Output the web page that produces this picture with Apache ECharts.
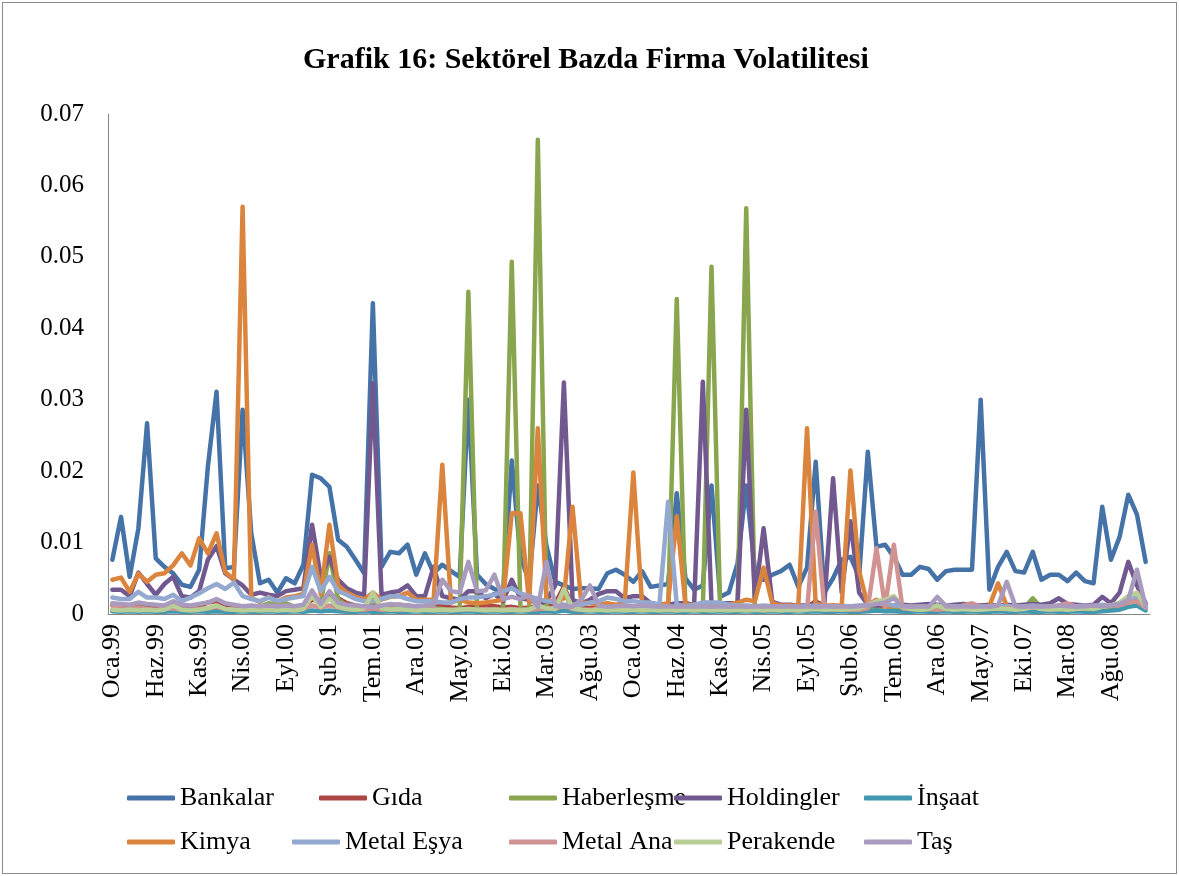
<!DOCTYPE html>
<html>
<head>
<meta charset="utf-8">
<script src="https://cdn.jsdelivr.net/npm/echarts@6/dist/echarts.min.js"></script>
<style>
    html, body { margin: 0; padding: 0; background: #fff; }
    #chart { width: 1179px; height: 876px; }
    .frame { position: absolute; left: 2px; top: 2px; width: 1173px; height: 870px; border: 1px solid #8c8c8c; pointer-events: none; }
</style>
</head>
<body>
<div id="chart"></div>
<div class="frame"></div>
<script>
// ay etiketleri
const monthNames = ['Oca', 'Şub', 'Mar', 'Nis', 'May', 'Haz', 'Tem', 'Ağu', 'Eyl', 'Eki', 'Kas', 'Ara'];
const years = ['99', '00', '01', '02', '03', '04', '05', '06', '07', '08'];
const categories = [];
years.forEach(y => monthNames.forEach(m => categories.push(m + '.' + y)));

const yTicks = [0, 0.01, 0.02, 0.03, 0.04, 0.05, 0.06, 0.07];

// seriler (Oca.99 - Ara.08)
const bankalar = [
    0.0076, 0.0136, 0.0052, 0.0120, 0.0267, 0.0078, 0.0066, 0.0057, 0.0041, 0.0038,
    0.0062, 0.0206, 0.0311, 0.0064, 0.0066, 0.0286, 0.0113, 0.0043, 0.0048, 0.0030,
    0.0050, 0.0043, 0.0069, 0.0195, 0.0190, 0.0178, 0.0104, 0.0094, 0.0076, 0.0057,
    0.0435, 0.0066, 0.0087, 0.0085, 0.0097, 0.0055, 0.0085, 0.0057, 0.0069, 0.0060,
    0.0052, 0.0300, 0.0055, 0.0042, 0.0035, 0.0030, 0.0215, 0.0080, 0.0045, 0.0180,
    0.0095, 0.0045, 0.0040, 0.0035, 0.0036, 0.0036, 0.0035, 0.0057, 0.0062, 0.0055,
    0.0045, 0.0060, 0.0038, 0.0040, 0.0042, 0.0169, 0.0050, 0.0034, 0.0040, 0.0180,
    0.0024, 0.0030, 0.0071, 0.0180, 0.0062, 0.0048, 0.0055, 0.0060, 0.0069, 0.0038,
    0.0065, 0.0213, 0.0030, 0.0050, 0.0076, 0.0080, 0.0052, 0.0227, 0.0094, 0.0097,
    0.0080, 0.0055, 0.0055, 0.0066, 0.0063, 0.0048, 0.0060, 0.0062, 0.0062, 0.0062,
    0.0300, 0.0034, 0.0066, 0.0087, 0.0060, 0.0058, 0.0087, 0.0048, 0.0055, 0.0055,
    0.0046, 0.0058, 0.0046, 0.0043, 0.0150, 0.0076, 0.0108, 0.0167, 0.0139, 0.0073
];
const gida = [
    0.0012, 0.0010, 0.0011, 0.0013, 0.0010, 0.0009, 0.0011, 0.0012, 0.0009, 0.0008,
    0.0010, 0.0016, 0.0018, 0.0012, 0.0010, 0.0009, 0.0008, 0.0010, 0.0009, 0.0008,
    0.0010, 0.0009, 0.0011, 0.0020, 0.0018, 0.0026, 0.0022, 0.0015, 0.0012, 0.0010,
    0.0012, 0.0010, 0.0011, 0.0013, 0.0012, 0.0010, 0.0009, 0.0010, 0.0011, 0.0009,
    0.0008, 0.0010, 0.0009, 0.0012, 0.0011, 0.0009, 0.0010, 0.0008, 0.0009, 0.0011,
    0.0012, 0.0015, 0.0038, 0.0012, 0.0009, 0.0008, 0.0010, 0.0009, 0.0008, 0.0009,
    0.0008, 0.0007, 0.0008, 0.0007, 0.0008, 0.0009, 0.0007, 0.0008, 0.0007, 0.0008,
    0.0007, 0.0008, 0.0007, 0.0008, 0.0009, 0.0008, 0.0007, 0.0008, 0.0007, 0.0008,
    0.0009, 0.0018, 0.0010, 0.0012, 0.0008, 0.0009, 0.0008, 0.0010, 0.0009, 0.0008,
    0.0010, 0.0008, 0.0007, 0.0008, 0.0007, 0.0008, 0.0007, 0.0008, 0.0009, 0.0008,
    0.0007, 0.0008, 0.0009, 0.0010, 0.0008, 0.0007, 0.0008, 0.0007, 0.0008, 0.0009,
    0.0008, 0.0007, 0.0008, 0.0009, 0.0010, 0.0009, 0.0012, 0.0016, 0.0022, 0.0010
];
const haberlesme = [
    0.0006, 0.0005, 0.0006, 0.0007, 0.0006, 0.0005, 0.0006, 0.0008, 0.0006, 0.0005,
    0.0006, 0.0007, 0.0008, 0.0006, 0.0005, 0.0006, 0.0008, 0.0010, 0.0015, 0.0012,
    0.0015, 0.0010, 0.0012, 0.0030, 0.0015, 0.0085, 0.0020, 0.0012, 0.0010, 0.0009,
    0.0020, 0.0010, 0.0009, 0.0010, 0.0009, 0.0008, 0.0007, 0.0008, 0.0007, 0.0006,
    0.0007, 0.0451, 0.0007, 0.0006, 0.0007, 0.0006, 0.0493, 0.0007, 0.0006, 0.0664,
    0.0008, 0.0007, 0.0030, 0.0008, 0.0006, 0.0005, 0.0006, 0.0005, 0.0006, 0.0005,
    0.0006, 0.0005, 0.0006, 0.0005, 0.0006, 0.0441, 0.0006, 0.0005, 0.0006, 0.0486,
    0.0006, 0.0005, 0.0006, 0.0568, 0.0007, 0.0006, 0.0005, 0.0006, 0.0005, 0.0006,
    0.0005, 0.0006, 0.0005, 0.0006, 0.0005, 0.0006, 0.0005, 0.0006, 0.0008, 0.0010,
    0.0008, 0.0006, 0.0005, 0.0006, 0.0005, 0.0006, 0.0005, 0.0006, 0.0005, 0.0006,
    0.0005, 0.0006, 0.0005, 0.0006, 0.0007, 0.0008, 0.0022, 0.0008, 0.0006, 0.0007,
    0.0006, 0.0005, 0.0006, 0.0007, 0.0008, 0.0010, 0.0012, 0.0020, 0.0018, 0.0008
];
const holdingler = [
    0.0034, 0.0034, 0.0025, 0.0058, 0.0042, 0.0027, 0.0042, 0.0052, 0.0025, 0.0023,
    0.0032, 0.0076, 0.0095, 0.0057, 0.0048, 0.0040, 0.0027, 0.0030, 0.0027, 0.0025,
    0.0032, 0.0034, 0.0036, 0.0125, 0.0052, 0.0080, 0.0048, 0.0036, 0.0030, 0.0027,
    0.0323, 0.0027, 0.0030, 0.0032, 0.0040, 0.0025, 0.0025, 0.0066, 0.0025, 0.0022,
    0.0020, 0.0032, 0.0032, 0.0022, 0.0028, 0.0018, 0.0048, 0.0022, 0.0020, 0.0015,
    0.0018, 0.0040, 0.0324, 0.0020, 0.0015, 0.0020, 0.0028, 0.0032, 0.0032, 0.0022,
    0.0025, 0.0025, 0.0015, 0.0013, 0.0013, 0.0015, 0.0015, 0.0013, 0.0325, 0.0015,
    0.0015, 0.0015, 0.0015, 0.0286, 0.0020, 0.0120, 0.0017, 0.0013, 0.0013, 0.0012,
    0.0012, 0.0013, 0.0015, 0.0190, 0.0030, 0.0130, 0.0030, 0.0013, 0.0012, 0.0012,
    0.0012, 0.0013, 0.0012, 0.0013, 0.0014, 0.0013, 0.0012, 0.0013, 0.0014, 0.0013,
    0.0012, 0.0013, 0.0012, 0.0013, 0.0012, 0.0013, 0.0014, 0.0013, 0.0015, 0.0022,
    0.0014, 0.0013, 0.0012, 0.0013, 0.0024, 0.0015, 0.0030, 0.0073, 0.0040, 0.0015
];
const insaat = [
    0.0004, 0.0003, 0.0004, 0.0003, 0.0004, 0.0003, 0.0003, 0.0004, 0.0003, 0.0003,
    0.0004, 0.0003, 0.0004, 0.0003, 0.0003, 0.0004, 0.0003, 0.0003, 0.0004, 0.0003,
    0.0003, 0.0004, 0.0003, 0.0005, 0.0004, 0.0005, 0.0004, 0.0003, 0.0003, 0.0004,
    0.0003, 0.0003, 0.0004, 0.0003, 0.0003, 0.0004, 0.0003, 0.0003, 0.0004, 0.0003,
    0.0003, 0.0004, 0.0003, 0.0003, 0.0004, 0.0003, 0.0003, 0.0004, 0.0003, 0.0003,
    0.0004, 0.0003, 0.0005, 0.0003, 0.0003, 0.0004, 0.0003, 0.0003, 0.0004, 0.0003,
    0.0003, 0.0004, 0.0003, 0.0003, 0.0004, 0.0003, 0.0003, 0.0004, 0.0003, 0.0003,
    0.0004, 0.0003, 0.0003, 0.0004, 0.0003, 0.0003, 0.0004, 0.0003, 0.0003, 0.0004,
    0.0003, 0.0004, 0.0003, 0.0003, 0.0004, 0.0003, 0.0003, 0.0004, 0.0005, 0.0004,
    0.0004, 0.0003, 0.0003, 0.0004, 0.0003, 0.0003, 0.0004, 0.0003, 0.0003, 0.0004,
    0.0003, 0.0003, 0.0004, 0.0003, 0.0003, 0.0004, 0.0003, 0.0003, 0.0004, 0.0003,
    0.0003, 0.0004, 0.0003, 0.0003, 0.0004, 0.0005, 0.0006, 0.0010, 0.0012, 0.0005
];
const kimya = [
    0.0048, 0.0051, 0.0031, 0.0057, 0.0045, 0.0055, 0.0057, 0.0068, 0.0085, 0.0068,
    0.0106, 0.0085, 0.0113, 0.0059, 0.0048, 0.0570, 0.0022, 0.0017, 0.0024, 0.0017,
    0.0023, 0.0025, 0.0028, 0.0097, 0.0028, 0.0125, 0.0040, 0.0030, 0.0024, 0.0020,
    0.0030, 0.0020, 0.0024, 0.0025, 0.0030, 0.0020, 0.0020, 0.0020, 0.0209, 0.0016,
    0.0020, 0.0016, 0.0015, 0.0016, 0.0018, 0.0020, 0.0141, 0.0141, 0.0016, 0.0260,
    0.0020, 0.0016, 0.0022, 0.0150, 0.0016, 0.0015, 0.0013, 0.0015, 0.0013, 0.0015,
    0.0198, 0.0016, 0.0015, 0.0013, 0.0015, 0.0137, 0.0013, 0.0013, 0.0012, 0.0013,
    0.0012, 0.0013, 0.0016, 0.0020, 0.0018, 0.0065, 0.0015, 0.0012, 0.0012, 0.0012,
    0.0260, 0.0014, 0.0012, 0.0012, 0.0012, 0.0201, 0.0060, 0.0012, 0.0020, 0.0010,
    0.0012, 0.0010, 0.0011, 0.0010, 0.0011, 0.0010, 0.0011, 0.0010, 0.0011, 0.0010,
    0.0010, 0.0011, 0.0043, 0.0011, 0.0010, 0.0011, 0.0010, 0.0011, 0.0010, 0.0011,
    0.0010, 0.0011, 0.0010, 0.0011, 0.0012, 0.0011, 0.0015, 0.0020, 0.0025, 0.0012
];
const metalEsya = [
    0.0023, 0.0021, 0.0021, 0.0031, 0.0023, 0.0023, 0.0021, 0.0027, 0.0018, 0.0023,
    0.0029, 0.0036, 0.0042, 0.0035, 0.0044, 0.0025, 0.0021, 0.0018, 0.0023, 0.0018,
    0.0021, 0.0023, 0.0025, 0.0066, 0.0032, 0.0052, 0.0032, 0.0027, 0.0021, 0.0018,
    0.0018, 0.0021, 0.0025, 0.0025, 0.0021, 0.0018, 0.0018, 0.0018, 0.0016, 0.0016,
    0.0021, 0.0023, 0.0023, 0.0025, 0.0027, 0.0032, 0.0036, 0.0029, 0.0025, 0.0021,
    0.0018, 0.0016, 0.0013, 0.0013, 0.0013, 0.0016, 0.0018, 0.0023, 0.0021, 0.0018,
    0.0018, 0.0016, 0.0016, 0.0013, 0.0157, 0.0013, 0.0011, 0.0013, 0.0016, 0.0016,
    0.0016, 0.0013, 0.0012, 0.0012, 0.0011, 0.0012, 0.0011, 0.0010, 0.0011, 0.0010,
    0.0011, 0.0012, 0.0010, 0.0011, 0.0010, 0.0011, 0.0012, 0.0013, 0.0015, 0.0014,
    0.0012, 0.0011, 0.0010, 0.0011, 0.0010, 0.0011, 0.0012, 0.0011, 0.0010, 0.0011,
    0.0010, 0.0011, 0.0012, 0.0011, 0.0010, 0.0011, 0.0012, 0.0011, 0.0010, 0.0011,
    0.0010, 0.0011, 0.0012, 0.0011, 0.0013, 0.0012, 0.0015, 0.0020, 0.0025, 0.0012
];
const metalAna = [
    0.0012, 0.0008, 0.0007, 0.0009, 0.0007, 0.0006, 0.0007, 0.0008, 0.0006, 0.0006,
    0.0007, 0.0008, 0.0010, 0.0007, 0.0006, 0.0006, 0.0006, 0.0007, 0.0006, 0.0006,
    0.0007, 0.0006, 0.0007, 0.0012, 0.0009, 0.0012, 0.0009, 0.0007, 0.0006, 0.0006,
    0.0008, 0.0006, 0.0007, 0.0006, 0.0007, 0.0006, 0.0006, 0.0007, 0.0006, 0.0006,
    0.0006, 0.0007, 0.0006, 0.0007, 0.0006, 0.0006, 0.0007, 0.0006, 0.0006, 0.0007,
    0.0008, 0.0007, 0.0012, 0.0007, 0.0006, 0.0006, 0.0007, 0.0006, 0.0006, 0.0006,
    0.0006, 0.0007, 0.0006, 0.0006, 0.0007, 0.0006, 0.0006, 0.0007, 0.0006, 0.0006,
    0.0007, 0.0006, 0.0006, 0.0007, 0.0006, 0.0006, 0.0007, 0.0006, 0.0006, 0.0007,
    0.0006, 0.0143, 0.0007, 0.0006, 0.0007, 0.0006, 0.0006, 0.0008, 0.0092, 0.0010,
    0.0097, 0.0008, 0.0007, 0.0006, 0.0007, 0.0006, 0.0007, 0.0008, 0.0012, 0.0015,
    0.0010, 0.0008, 0.0007, 0.0008, 0.0007, 0.0008, 0.0009, 0.0008, 0.0010, 0.0012,
    0.0015, 0.0010, 0.0008, 0.0009, 0.0010, 0.0012, 0.0012, 0.0016, 0.0018, 0.0009
];
const perakende = [
    0.0006, 0.0005, 0.0006, 0.0005, 0.0006, 0.0005, 0.0006, 0.0012, 0.0006, 0.0005,
    0.0006, 0.0008, 0.0012, 0.0007, 0.0006, 0.0005, 0.0006, 0.0005, 0.0006, 0.0005,
    0.0006, 0.0005, 0.0007, 0.0025, 0.0010, 0.0022, 0.0010, 0.0007, 0.0006, 0.0008,
    0.0030, 0.0008, 0.0006, 0.0007, 0.0006, 0.0005, 0.0006, 0.0005, 0.0006, 0.0005,
    0.0006, 0.0007, 0.0006, 0.0005, 0.0006, 0.0005, 0.0006, 0.0005, 0.0006, 0.0012,
    0.0008, 0.0007, 0.0035, 0.0008, 0.0006, 0.0005, 0.0006, 0.0005, 0.0006, 0.0005,
    0.0006, 0.0005, 0.0006, 0.0005, 0.0006, 0.0005, 0.0006, 0.0005, 0.0006, 0.0005,
    0.0006, 0.0005, 0.0006, 0.0005, 0.0006, 0.0005, 0.0006, 0.0005, 0.0006, 0.0005,
    0.0006, 0.0007, 0.0006, 0.0007, 0.0006, 0.0007, 0.0008, 0.0012, 0.0018, 0.0020,
    0.0025, 0.0010, 0.0007, 0.0006, 0.0007, 0.0012, 0.0007, 0.0006, 0.0007, 0.0006,
    0.0006, 0.0007, 0.0008, 0.0007, 0.0006, 0.0007, 0.0010, 0.0007, 0.0006, 0.0007,
    0.0006, 0.0007, 0.0008, 0.0007, 0.0010, 0.0012, 0.0016, 0.0025, 0.0030, 0.0010
];
const tas = [
    0.0015, 0.0014, 0.0013, 0.0016, 0.0014, 0.0013, 0.0012, 0.0018, 0.0013, 0.0012,
    0.0014, 0.0016, 0.0021, 0.0015, 0.0013, 0.0011, 0.0012, 0.0011, 0.0012, 0.0011,
    0.0012, 0.0011, 0.0013, 0.0033, 0.0014, 0.0032, 0.0016, 0.0013, 0.0012, 0.0011,
    0.0010, 0.0012, 0.0014, 0.0013, 0.0012, 0.0011, 0.0012, 0.0013, 0.0048, 0.0032,
    0.0030, 0.0073, 0.0032, 0.0033, 0.0055, 0.0021, 0.0024, 0.0021, 0.0026, 0.0010,
    0.0073, 0.0011, 0.0012, 0.0010, 0.0020, 0.0040, 0.0012, 0.0010, 0.0011, 0.0012,
    0.0011, 0.0012, 0.0011, 0.0010, 0.0011, 0.0010, 0.0011, 0.0010, 0.0011, 0.0010,
    0.0011, 0.0010, 0.0011, 0.0010, 0.0011, 0.0010, 0.0011, 0.0010, 0.0011, 0.0010,
    0.0011, 0.0010, 0.0011, 0.0010, 0.0011, 0.0010, 0.0011, 0.0012, 0.0014, 0.0016,
    0.0022, 0.0011, 0.0010, 0.0011, 0.0010, 0.0024, 0.0011, 0.0010, 0.0011, 0.0010,
    0.0011, 0.0010, 0.0012, 0.0045, 0.0011, 0.0010, 0.0011, 0.0010, 0.0011, 0.0012,
    0.0011, 0.0010, 0.0011, 0.0012, 0.0011, 0.0012, 0.0014, 0.0020, 0.0062, 0.0010
];

const seriesNames = ['Bankalar', 'Gıda', 'Haberleşme', 'Holdingler', 'İnşaat',
    'Kimya', 'Metal Eşya', 'Metal Ana', 'Perakende', 'Taş'];
const seriesData = [bankalar, gida, haberlesme, holdingler, insaat,
    kimya, metalEsya, metalAna, perakende, tas];
const colors = ['#4572A7', '#AA4643', '#89A54E', '#71588F', '#4198AF',
    '#DB843D', '#93A9CF', '#D19392', '#B9CD96', '#A99BBD'];

// legend konumları (iki satır, beş sütun)
const legendLeft = [127, 319, 509, 674, 864, 127, 292, 509, 674, 864];
const legendTop = [785, 785, 785, 785, 785, 829, 829, 829, 829, 829];

const font = '"Liberation Serif", "Times New Roman", serif';

const chartDom = document.getElementById('chart');
const myChart = echarts.init(chartDom, null, { renderer: 'canvas' });

const option = {
    animation: false,
    color: colors,
    title: {
        text: 'Grafik 16: Sektörel Bazda Firma Volatilitesi',
        left: 298,
        top: 40,
        textStyle: { fontFamily: font, fontSize: 30, fontWeight: 'bold', color: '#000' }
    },
    legend: seriesNames.map((name, i) => ({
        data: [name],
        left: legendLeft[i],
        top: legendTop[i],
        padding: 0,
        icon: 'roundRect',
        itemWidth: 48,
        itemHeight: 5,
        itemGap: 0,
        textStyle: { fontFamily: font, fontSize: 26, color: '#000' }
    })),
    grid: {
        left: 108,
        right: 29,
        top: 114,
        bottom: 262,
        containLabel: false
    },
    xAxis: {
        type: 'category',
        data: categories,
        boundaryGap: true,
        axisLine: { lineStyle: { color: '#868686', width: 1 } },
        axisTick: { show: false },
        axisLabel: {
            interval: 4,
            rotate: 90,
            margin: 10,
            fontFamily: font,
            fontSize: 26,
            color: '#000'
        }
    },
    yAxis: {
        type: 'value',
        min: 0,
        max: 0.07,
        interval: 0.01,
        splitLine: { show: false },
        axisLine: { show: true, lineStyle: { color: '#868686', width: 1 } },
        axisTick: { show: false },
        axisLabel: {
            margin: 24,
            fontFamily: font,
            fontSize: 25,
            color: '#000',
            formatter: v => {
                const t = yTicks.find(x => Math.abs(x - v) < 1e-9);
                return t === 0 ? '0' : (t !== undefined ? t.toFixed(2) : '');
            }
        }
    },
    series: seriesNames.map((name, i) => ({
        name: name,
        type: 'line',
        data: seriesData[i],
        symbol: 'none',
        lineStyle: { width: 4.5, color: colors[i], cap: 'round', join: 'round' },
        itemStyle: { color: colors[i] }
    }))
};

option && myChart.setOption(option);
</script>
</body>
</html>
